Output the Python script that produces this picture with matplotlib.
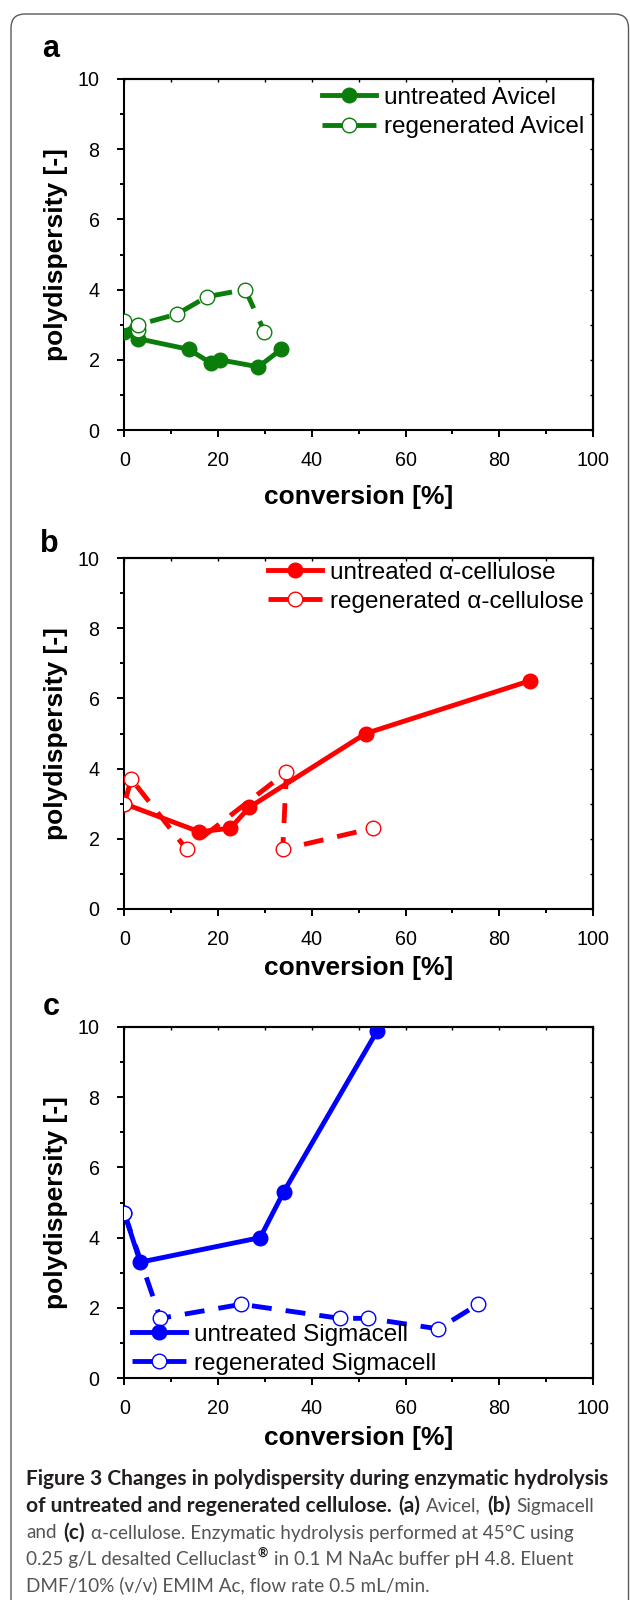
import numpy as np
import matplotlib.pyplot as plt
from matplotlib.patches import FancyBboxPatch
from matplotlib.ticker import MultipleLocator

plt.rcParams['font.family'] = ['Liberation Sans', 'DejaVu Sans']

# panel a: Avicel
avicel_untr_x = [0, 3, 13.7, 18.6, 20.4, 28.6, 33.5]
avicel_untr_y = [2.8, 2.6, 2.3, 1.9, 2.0, 1.8, 2.3]
avicel_regen_x = [0, 3, 3, 11.2, 17.7, 25.8, 29.9]
avicel_regen_y = [3.1, 2.85, 3.0, 3.3, 3.8, 4.0, 2.8]

# panel b: alpha-cellulose
acell_untr_x = [0, 16, 22.6, 26.7, 51.5, 86.5]
acell_untr_y = [3.0, 2.2, 2.3, 2.9, 5.0, 6.5]
acell_regen_x = [0, 1.5, 13.3, 34.6, 33.8, 53]
acell_regen_y = [3.0, 3.7, 1.7, 3.9, 1.7, 2.3]

# panel c: Sigmacell
sigma_untr_x = [0, 3.4, 29, 34, 54]
sigma_untr_y = [4.7, 3.3, 4.0, 5.3, 9.9]
sigma_regen_x = [0, 7.7, 25, 46, 52, 67, 75.5]
sigma_regen_y = [4.7, 1.7, 2.1, 1.7, 1.7, 1.4, 2.1]

panels = [
    ('a', '#0b7d0b', avicel_untr_x, avicel_untr_y, avicel_regen_x, avicel_regen_y,
     'untreated Avicel', 'regenerated Avicel'),
    ('b', '#ff0000', acell_untr_x, acell_untr_y, acell_regen_x, acell_regen_y,
     'untreated \u03b1-cellulose', 'regenerated \u03b1-cellulose'),
    ('c', '#0000ff', sigma_untr_x, sigma_untr_y, sigma_regen_x, sigma_regen_y,
     'untreated Sigmacell', 'regenerated Sigmacell'),
]

# layout in pixels (figure is 630 x 1600)
ax_bottoms = [430, 909, 1378]
ax_left, ax_right, ax_h = 124.3, 593, 351
legend_anchor = [(0.421, 0.978), (0.3075, 0.99), (0.016, 0.155)]
xlabel_y = [-0.191, -0.168, -0.171]
panel_label_pos = [(42, 56.7), (40, 552), (43, 1015)]

fig = plt.figure(figsize=(6.3, 16), dpi=100)

bg = fig.add_axes([0, 0, 1, 1], zorder=-1)
bg.set_xlim(0, 630)
bg.set_ylim(1600, 0)
bg.axis('off')
bg.add_patch(FancyBboxPatch((11, 14), 617.5, 1650, boxstyle='round,pad=0,rounding_size=14',
                            fill=False, ec='#5a5a5a', lw=1.0))

for i, (lab, col, ux, uy, rx, ry, lu, lr) in enumerate(panels):
    b = ax_bottoms[i]
    ax = fig.add_axes([ax_left / 630, 1 - b / 1600, (ax_right - ax_left) / 630, ax_h / 1600])
    ax.plot(ux, uy, '-', color=col, lw=3.5, marker='o', ms=10.5, mfc=col, mec=col,
            label=lu, zorder=3)
    ax.plot(rx, ry, color=col, lw=3.5, dashes=(4.1, 2.9), marker='o', ms=10.5,
            mfc='white', mec=col, mew=1.0, label=lr, zorder=3)
    ax.set_xlim(0, 100)
    ax.set_ylim(0, 10)
    ax.xaxis.set_major_locator(MultipleLocator(20))
    ax.xaxis.set_minor_locator(MultipleLocator(10))
    ax.yaxis.set_major_locator(MultipleLocator(2))
    ax.yaxis.set_minor_locator(MultipleLocator(1))
    ax.tick_params(which='major', direction='out', length=5.3, width=1.4, labelsize=14.2)
    ax.tick_params(which='minor', direction='out', length=3, width=1.4)
    ax.tick_params(axis='x', which='major', pad=10)
    ax.tick_params(axis='y', which='major', pad=12.5)
    for s in ax.spines.values():
        s.set_linewidth(1.5)
    # small inward ticks on top and right
    for side in ('top', 'right'):
        if side == 'top':
            sec = ax.secondary_xaxis('top')
            sec.xaxis.set_major_locator(MultipleLocator(10))
        else:
            sec = ax.secondary_yaxis('right')
            sec.yaxis.set_major_locator(MultipleLocator(1))
        sec.tick_params(direction='in', length=2.5, width=1.0, labeltop=False,
                        labelright=False)
        sec.spines[side].set_linewidth(1.5)

    ax.set_xlabel('conversion [%]', fontsize=19, fontweight='bold')
    ax.xaxis.set_label_coords(0.5, xlabel_y[i])
    ax.xaxis.label.set_va('center')
    ax.set_ylabel('polydispersity [-]', fontsize=19, fontweight='bold')
    ax.yaxis.set_label_coords(-0.120, 0.5)

    ax.legend(loc='upper left', bbox_to_anchor=legend_anchor[i], frameon=False,
              fontsize=17.5, handlelength=2.22, handletextpad=0.33, labelspacing=0.3,
              borderpad=0, borderaxespad=0)

    px, py = panel_label_pos[i]
    bg.text(px, py, lab, fontsize=22, fontweight='bold', ha='left', va='baseline')

# caption, drawn run by run so bold and regular parts can share a line
renderer = fig.canvas.get_renderer()
cap_font = ['Lato', 'DejaVu Sans']
bold_size, reg_size = 15, 13.6
dark, grey = '#231f20', '#555555'


def text_w(s, bold):
    t = bg.text(0, 0, s, family=cap_font, fontsize=bold_size if bold else reg_size,
                fontweight='bold' if bold else 'normal')
    w = t.get_window_extent(renderer).width
    t.remove()
    return w


space_b = text_w('x x', True) - text_w('xx', True)
space_r = text_w('x x', False) - text_w('xx', False)

caption = [
    [('Figure 3 Changes in polydispersity during enzymatic hydrolysis', True, False, False)],
    [('of untreated and regenerated cellulose.', True, False, False), ('(a)', True, False, True),
     ('Avicel,', False, False, True), ('(b)', True, False, True), ('Sigmacell', False, False, True)],
    [('and', False, False, False), ('(c)', True, False, True),
     ('\u03b1-cellulose. Enzymatic hydrolysis performed at 45\u00b0C using', False, False, True)],
    [('0.25 g/L desalted Celluclast', False, False, False), ('\u00ae', True, True, False),
     ('in 0.1 M NaAc buffer pH 4.8. Eluent', False, False, True)],
    [('DMF/10% (v/v) EMIM Ac, flow rate 0.5 mL/min.', False, False, False)],
]
baselines = [1485, 1511.7, 1538.5, 1565, 1591.5]

for line, y0 in zip(caption, baselines):
    x = 26.5
    for txt, bold, sup, lead in line:
        if lead:
            x += space_b if bold else space_r
        size = (bold_size if bold else reg_size) * (0.6 if sup else 1)
        yy = y0 - 8 if sup else y0
        t = bg.text(x, yy, txt, fontsize=size, family=cap_font,
                    fontweight='bold' if bold else 'normal',
                    color=dark if bold else grey, ha='left', va='baseline')
        x += t.get_window_extent(renderer).width + 1

fig.savefig('out.png', dpi=100)
